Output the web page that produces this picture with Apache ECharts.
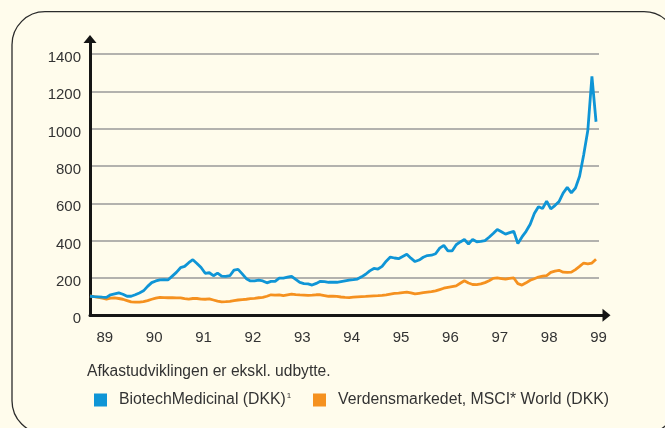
<!DOCTYPE html>
<html>
<head>
<meta charset="utf-8">
<script src="https://cdn.jsdelivr.net/npm/echarts@6/dist/echarts.min.js"></script>
<style>
  html, body { margin: 0; padding: 0; background: #fffcec; }
  #chart { width: 665px; height: 428px; }
</style>
</head>
<body>
<div id="chart"></div>
<script>
// monthly index values, first point at late 1988
const startYear = 88.7;
const yearTicks = [89, 90, 91, 92, 93, 94, 95, 96, 97, 98, 99];
const yTicks = [0, 200, 400, 600, 800, 1000, 1200, 1400];

const biotech = [
  102, 100, 99, 97, 96, 110, 115, 120, 113, 102, 102, 110,
  120, 131, 155, 175, 184, 190, 191, 190, 210, 230, 255, 262,
  282, 298, 278, 256, 225, 228, 212, 226, 210, 208, 212, 242,
  246, 222, 196, 184, 184, 188, 184, 174, 182, 182, 199, 199,
  204, 209, 192, 176, 170, 168, 162, 171, 182, 180, 177, 177,
  177, 181, 185, 189, 191, 194, 206, 220, 238, 251, 248, 262,
  290, 312, 307, 303, 315, 327, 306, 288, 296, 311, 320, 322,
  330, 360, 375, 345, 345, 378, 393, 406, 382, 407, 394, 396,
  400, 418, 438, 460, 448, 435, 443, 450, 384, 420, 450, 488,
  545, 582, 572, 612, 570, 588, 609, 655, 685, 656, 682, 745,
  860, 990, 1280, 1037
];

const msciWorld = [
  104, 100, 96, 92, 87, 92, 93, 90, 86, 79, 72, 71,
  71, 73, 79, 86, 92, 96, 95, 94, 94, 93, 93, 89,
  87, 90, 90, 87, 86, 88, 82, 76, 72, 73, 75, 79,
  82, 84, 86, 89, 91, 94, 96, 102, 110, 108, 110, 106,
  110, 114, 111, 109, 108, 107, 108, 110, 110, 106, 102, 103,
  101, 98, 96, 95, 97, 99, 100, 101, 103, 104, 105, 107,
  110, 114, 117, 119, 122, 124, 120, 115, 118, 121, 124, 127,
  131, 138, 145, 150, 154, 158, 172, 185, 173, 165, 164, 168,
  175, 185, 198, 200, 197, 194, 198, 200, 170, 162, 174, 188,
  196, 205, 210, 213, 230, 237, 241, 231, 230, 231, 245, 262,
  280, 276, 280, 300
];

const blueName = "BiotechMedicinal (DKK)";
const orangeName = "Verdensmarkedet, MSCI* World (DKK)";

function toPoints(values) {
  return values.map((v, i) => [startYear + i / 12, v]);
}

const chart = echarts.init(document.getElementById("chart"));
const fontFamily = "Liberation Sans, Arial, sans-serif";
const legendText = {
  fontSize: 15.8,
  color: "#333",
  fontFamily,
  padding: [0, 0, 0, 7],
  rich: {
    a: { fontSize: 15.8, color: "#333" },
    s: { fontSize: 8, color: "#333", padding: [0, 0, 8, 1] },
  },
};

chart.setOption({
  animation: false,
  backgroundColor: "#fffcec",
  textStyle: { fontFamily },
  title: {
    text: "Afkastudviklingen er ekskl. udbytte.",
    left: 87,
    top: 364,
    padding: 0,
    textStyle: { fontSize: 15.6, fontWeight: "normal", color: "#333" },
  },
  legend: [
    {
      data: [blueName],
      left: 94,
      top: 392,
      padding: 0,
      icon: "rect",
      itemWidth: 13,
      itemHeight: 13,
      formatter: (name) => "{a|" + name + "}{s|1}",
      textStyle: legendText,
    },
    {
      data: [orangeName],
      left: 313,
      top: 392,
      padding: 0,
      icon: "rect",
      itemWidth: 13,
      itemHeight: 13,
      textStyle: legendText,
    },
  ],
  graphic: [
    {
      type: "rect",
      shape: { x: 12, y: 11.7, width: 665, height: 422, r: 33 },
      style: { fill: "none", stroke: "#2b2b2b", lineWidth: 1.3 },
      silent: true,
    },
  ],
  grid: [
    { left: 90, top: 54, width: 509, height: 261.3 },
    { left: 90, top: 39, width: 516.5, height: 276.3 },
  ],
  xAxis: [
    {
      type: "value",
      gridIndex: 0,
      min: startYear,
      max: 99.01,
      axisLine: { show: false },
      axisTick: { show: false },
      splitLine: { show: false },
      axisLabel: {
        customValues: yearTicks,
        formatter: (v) => String(v),
        fontSize: 15,
        color: "#333",
        margin: 15,
      },
    },
    {
      type: "value",
      gridIndex: 1,
      min: 0,
      max: 1,
      axisLine: {
        show: true,
        onZero: false,
        symbol: ["none", "triangle"],
        symbolSize: [13, 8],
        lineStyle: { color: "#151515", width: 3 },
      },
      axisTick: { show: false },
      axisLabel: { show: false },
      splitLine: { show: false },
    },
  ],
  yAxis: [
    {
      type: "value",
      gridIndex: 0,
      min: 0,
      max: 1400,
      interval: 200,
      axisLine: { show: false },
      axisTick: { show: false },
      axisLabel: {
        customValues: yTicks,
        formatter: (v) => String(v),
        fontSize: 15,
        color: "#333",
        margin: 9,
        verticalAlign: "top",
        lineHeight: 8,
      },
      splitLine: { lineStyle: { color: "#9a9a9a", width: 1.5 } },
    },
    {
      type: "value",
      gridIndex: 1,
      min: 0,
      max: 1,
      axisLine: {
        show: true,
        onZero: false,
        symbol: ["none", "triangle"],
        symbolSize: [13, 8],
        lineStyle: { color: "#151515", width: 3 },
      },
      axisTick: { show: false },
      axisLabel: { show: false },
      splitLine: { show: false },
    },
  ],
  series: [
    {
      name: orangeName,
      type: "line",
      xAxisIndex: 0,
      yAxisIndex: 0,
      data: toPoints(msciWorld),
      showSymbol: false,
      lineStyle: { color: "#f5911f", width: 2.8 },
      itemStyle: { color: "#f5911f" },
    },
    {
      name: blueName,
      type: "line",
      xAxisIndex: 0,
      yAxisIndex: 0,
      data: toPoints(biotech),
      showSymbol: false,
      lineStyle: { color: "#0f95d6", width: 2.8 },
      itemStyle: { color: "#0f95d6" },
    },
  ],
});
</script>
</body>
</html>
